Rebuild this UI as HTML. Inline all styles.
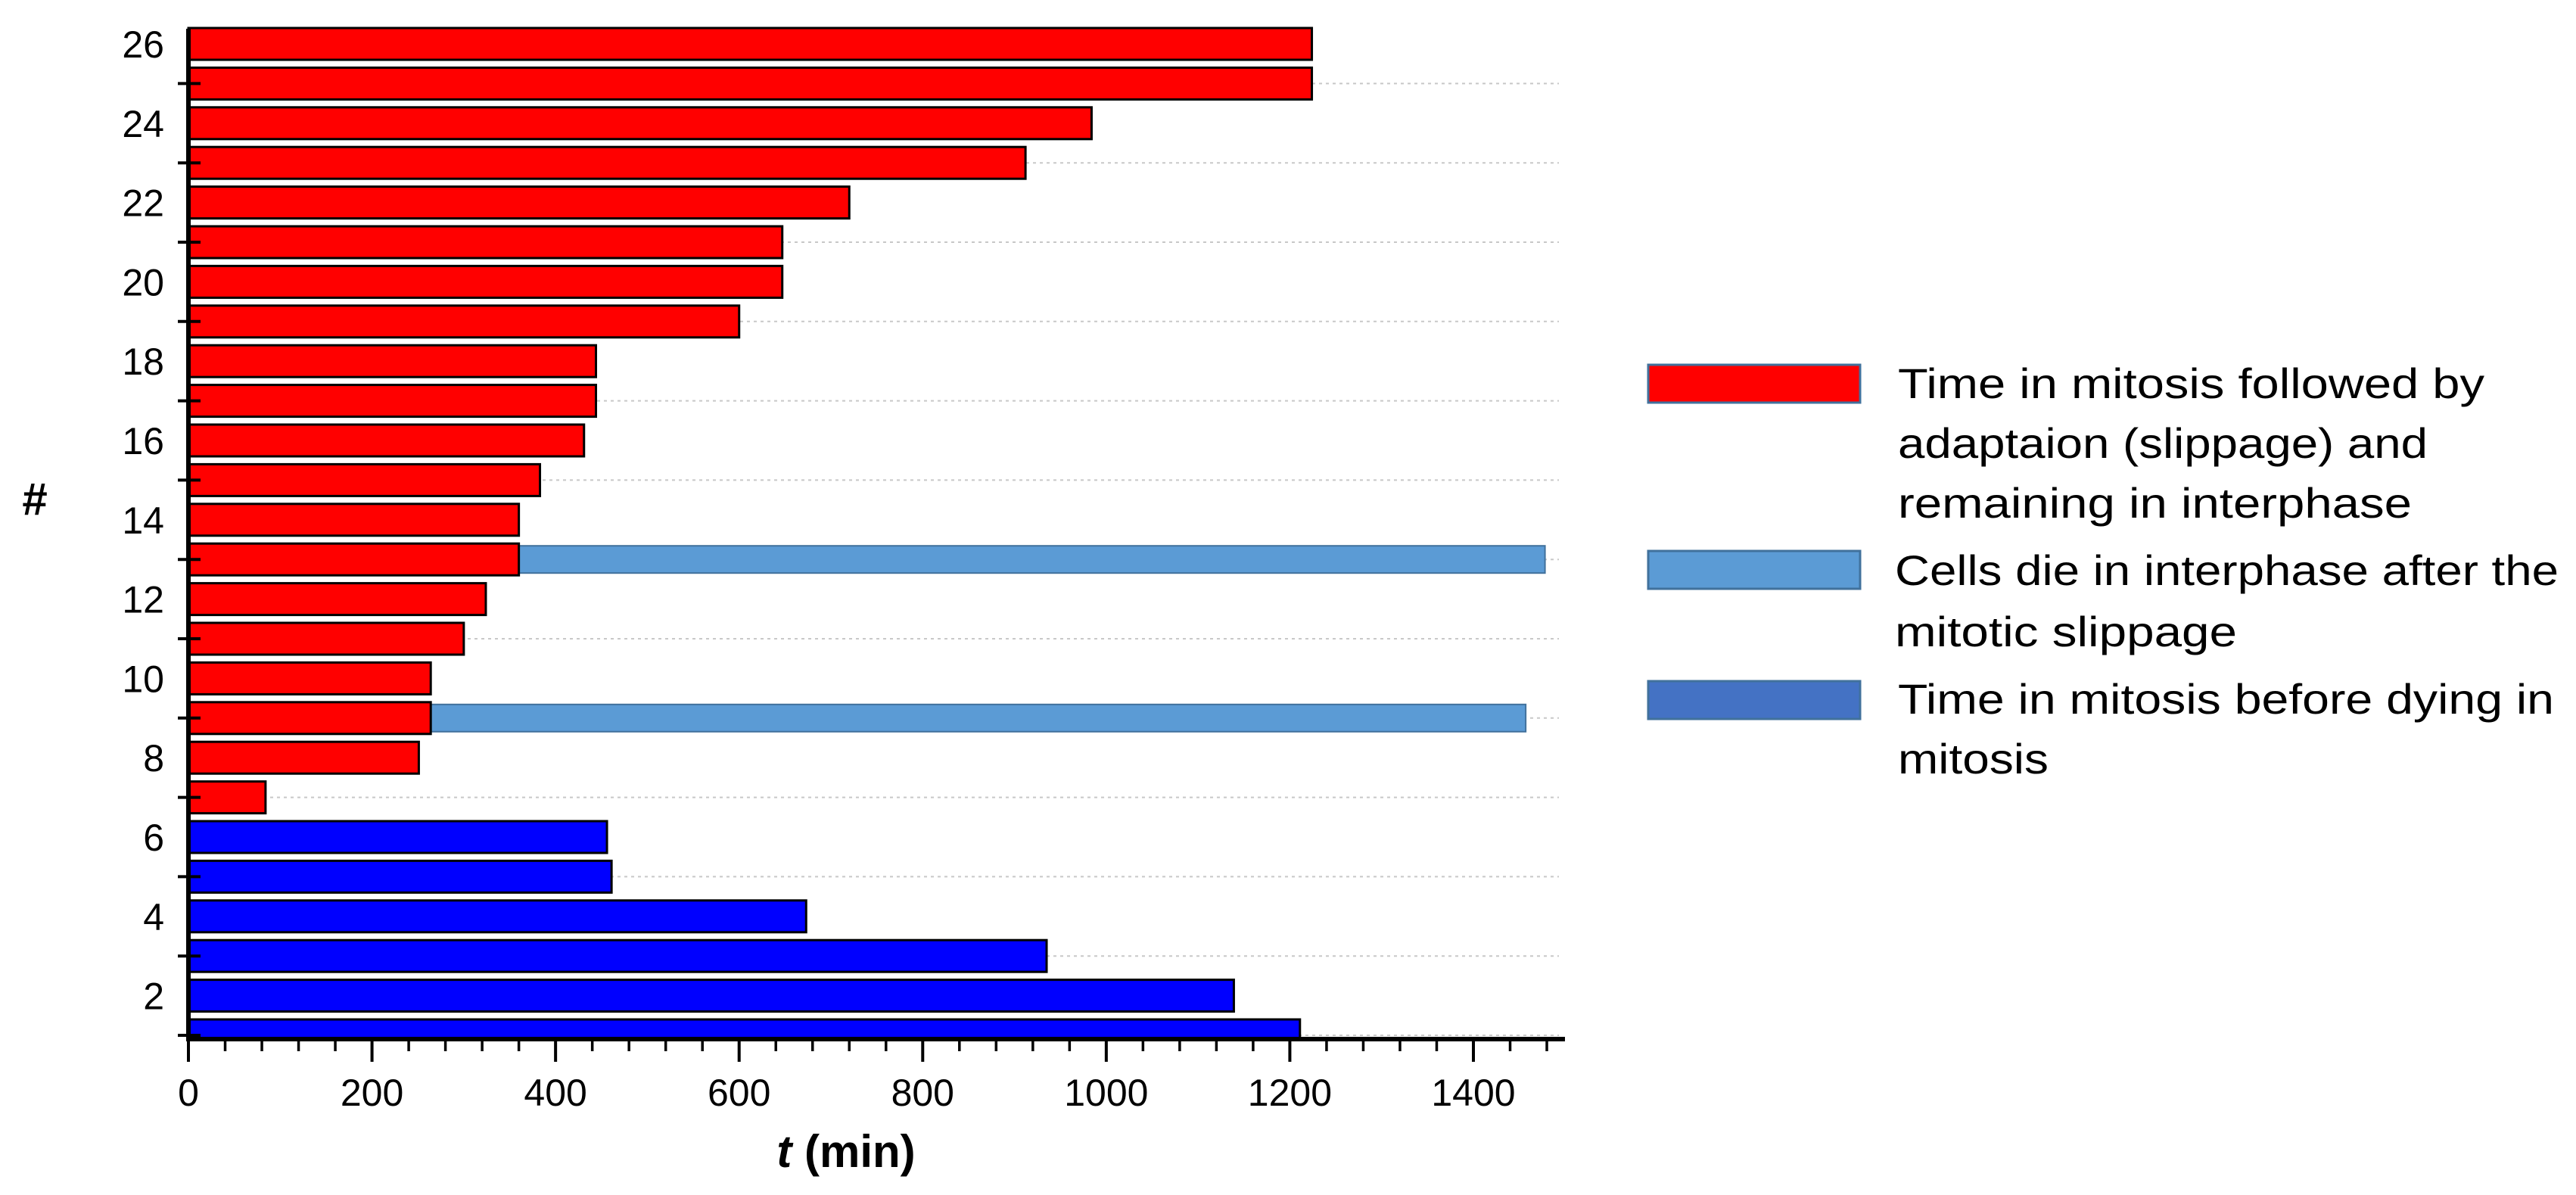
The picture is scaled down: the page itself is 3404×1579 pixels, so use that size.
<!DOCTYPE html>
<html><head><meta charset="utf-8"><style>
html,body{margin:0;padding:0;background:#fff;}
svg{display:block;font-family:"Liberation Sans",sans-serif;}
</style></head><body>
<svg id="chart" width="3404" height="1579" viewBox="0 0 3404 1579" xmlns="http://www.w3.org/2000/svg">
<g id="grid"></g>
<g id="bars"></g>
<g id="axes"></g>
<text x="46" y="680" font-size="60" font-weight="bold" text-anchor="middle">#</text>
<text x="1118" y="1542" font-size="60" font-weight="bold" text-anchor="middle"><tspan font-style="italic">t</tspan>  (min)</text>
<g id="legend">
<rect x="2178" y="482" width="280" height="50" fill="#ff0000" stroke="#41719c" stroke-width="3"/>
<rect x="2178" y="728" width="280" height="50" fill="#5b9bd5" stroke="#41719c" stroke-width="3"/>
<rect x="2178" y="900" width="280" height="50" fill="#4472c4" stroke="#41719c" stroke-width="3"/>
<g font-size="56" fill="#000">
<text x="2508" y="526" textLength="775" lengthAdjust="spacingAndGlyphs">Time in mitosis followed by</text>
<text x="2508" y="605" textLength="700" lengthAdjust="spacingAndGlyphs">adaptaion (slippage) and</text>
<text x="2508" y="684" textLength="679" lengthAdjust="spacingAndGlyphs">remaining in interphase</text>
<text x="2504" y="773" textLength="877" lengthAdjust="spacingAndGlyphs">Cells die in interphase after the</text>
<text x="2504" y="854" textLength="452" lengthAdjust="spacingAndGlyphs">mitotic slippage</text>
<text x="2508" y="943" textLength="867" lengthAdjust="spacingAndGlyphs">Time in mitosis before dying in</text>
<text x="2508" y="1022" textLength="199" lengthAdjust="spacingAndGlyphs">mitosis</text>
</g></g>
</svg>
<script>
const cellIds = [1,2,3,4,5,6,7,8,9,10,11,12,13,14,15,16,17,18,19,20,21,22,23,24,25,26];
const mitosisTimes = [1211,1139,935,673,461,456,84,251,264,264,300,324,360,360,383,431,444,444,600,647,647,720,912,984,1224,1224];
const diedInMitosis = [1,1,1,1,1,1,0,0,0,0,0,0,0,0,0,0,0,0,0,0,0,0,0,0,0,0];
const interphaseDeathIds = [9,13];
const interphaseDeathTimes = [1457,1478];
const xTicks = [0,200,400,600,800,1000,1200,1400];
const yTickLabels = [2,4,6,8,10,12,14,16,18,20,22,24,26];

const NS = "http://www.w3.org/2000/svg";
const X0 = 249, PXU = (1947-249)/1400, AXY = 1373;
const xs = v => X0 + v*PXU;
const yc = i => 1368 - (i-1)*52.4;
const BH = 42;
function mk(tag, attrs, parent){const e=document.createElementNS(NS,tag);for(const k in attrs)e.setAttribute(k,attrs[k]);parent.appendChild(e);return e;}
const grid=document.getElementById('grid'), bars=document.getElementById('bars'), axes=document.getElementById('axes');

const defs=mk('defs',{},document.getElementById('chart'));
const cp=mk('clipPath',{id:'plotclip'},defs);
mk('rect',{x:0,y:0,width:3404,height:AXY},cp);
bars.setAttribute('clip-path','url(#plotclip)');

cellIds.forEach(i=>{
  if(i%2===1){
    const g=mk('line',{x1:X0,x2:2060,y1:yc(i),y2:yc(i),stroke:'#c8c8c8','stroke-width':2,'stroke-dasharray':'4 5'},grid);
    
    
  }
});
interphaseDeathIds.forEach((id,k)=>{
  const s=mitosisTimes[id-1];
  const r=mk('rect',{x:xs(s),y:yc(id)-BH/2+3,width:xs(interphaseDeathTimes[k])-xs(s),height:BH-6,fill:'#5b9bd5',stroke:'#41719c','stroke-width':2},bars);
  
  
});
cellIds.forEach((id,k)=>{
  const r=mk('rect',{x:X0,y:yc(id)-BH/2,width:xs(mitosisTimes[k])-X0,height:BH,fill:diedInMitosis[k]?'#0000ff':'#ff0000',stroke:'#000','stroke-width':3},bars);
  
  
});
let a=mk('line',{x1:X0,x2:X0,y1:38,y2:AXY+2,stroke:'#000','stroke-width':6},axes);


a=mk('line',{x1:X0-3,x2:2068,y1:AXY,y2:AXY,stroke:'#000','stroke-width':6},axes);


for(let v=0; v<=1480; v+=40){
  const major = v%200===0;
  const t=mk('line',{x1:xs(v),x2:xs(v),y1:AXY,y2:AXY+(major?30:16),stroke:'#000','stroke-width':major?4:3.5},axes);
  
  
}
xTicks.forEach(v=>{
  const t=mk('text',{x:xs(v),y:1461,'font-size':50,'text-anchor':'middle'},axes);
  t.textContent=v;
  
  
});
cellIds.forEach(i=>{
  if(i%2===1){
    const t=mk('line',{x1:235,x2:265,y1:yc(i),y2:yc(i),stroke:'#000','stroke-width':4},axes);
    
    
  }
});
yTickLabels.forEach(v=>{
  const t=mk('text',{x:217,y:yc(v)+18,'font-size':50,'text-anchor':'end'},axes);
  t.textContent=v;
  
  
});
</script>
</body></html>
